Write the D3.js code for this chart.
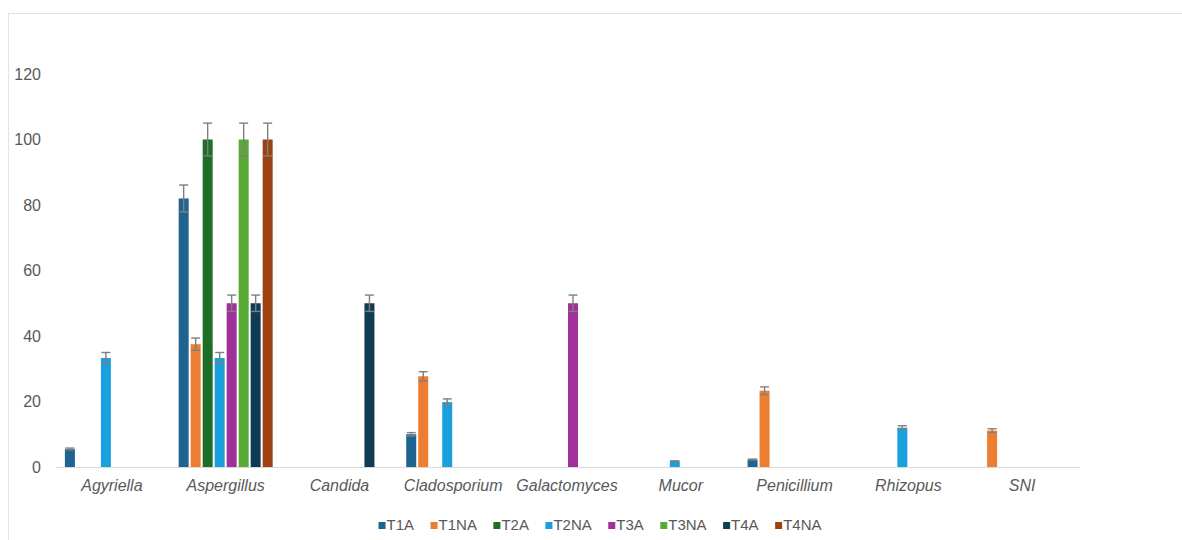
<!DOCTYPE html>
<html><head><meta charset="utf-8">
<script src="https://cdn.jsdelivr.net/npm/d3@7"></script>
<style>body{margin:0;background:#fff;}svg{display:block;font-family:"Liberation Sans",Arial,sans-serif;}</style>
</head><body>
<svg id="c" width="1182" height="540"></svg>
<script>
const categories = ["Agyriella","Aspergillus","Candida","Cladosporium","Galactomyces","Mucor","Penicillium","Rhizopus","SNI"];
const seriesNames = ["T1A","T1NA","T2A","T2NA","T3A","T3NA","T4A","T4NA"];
const seriesColors = ["#1f6390","#ed7d31","#1e6e28","#1aa0dc","#a0319a","#57ab35","#0f3b55","#9c4212"];
const T1A  = [5.5, 82, 0, 10, 0, 0, 2.3, 0, 0];
const T1NA = [0, 37.5, 0, 27.7, 0, 0, 23.3, 0, 11.1];
const T2A  = [0, 100, 0, 0, 0, 0, 0, 0, 0];
const T2NA = [33.3, 33.3, 0, 19.8, 0, 1.8, 0, 12, 0];
const T3A  = [0, 50, 0, 0, 50, 0, 0, 0, 0];
const T3NA = [0, 100, 0, 0, 0, 0, 0, 0, 0];
const T4A  = [0, 50, 50, 0, 0, 0, 0, 0, 0];
const T4NA = [0, 100, 0, 0, 0, 0, 0, 0, 0];
const yTicks = [0, 20, 40, 60, 80, 100, 120];
const errorPct = 0.05;

const seriesValues = [T1A, T1NA, T2A, T2NA, T3A, T3NA, T4A, T4NA];
const svg = d3.select("#c");

// chart border (cropped)
svg.append("path").attr("d","M8.5,540 V13.5 H1182").attr("fill","none").attr("stroke","#e3e3e3").attr("stroke-width",1);

const x0 = d3.scaleBand().domain(categories).range([55,1079]).paddingInner(0).paddingOuter(0);
const groupW = 96;
const x1 = d3.scaleBand().domain(seriesNames).range([0,groupW]).paddingInner(2/12).paddingOuter(1/12);
const y = d3.scaleLinear().domain([0,120]).range([467,74]);

// y labels
const yAxis = d3.axisLeft(y).tickValues(yTicks).tickSize(0).tickPadding(0);
const ya = svg.append("g").attr("transform","translate(41,0)").call(yAxis);
ya.select(".domain").remove();
ya.selectAll("text").attr("font-size",16).attr("fill","#595959").attr("font-family","Liberation Sans, Arial, sans-serif");

// bars
const data = [];
categories.forEach((c,i)=>seriesNames.forEach((s,j)=>{
  const v = seriesValues[j][i];
  if (v > 0) data.push({c, s, v, color: seriesColors[j]});
}));
const off = (x0.bandwidth()-groupW)/2;
svg.append("g").selectAll("rect").data(data).join("rect")
  .attr("x", d=>x0(d.c)+off+x1(d.s))
  .attr("width", x1.bandwidth())
  .attr("y", d=>y(d.v))
  .attr("height", d=>y(0)-y(d.v))
  .attr("fill", d=>d.color);

// error bars
const eb = svg.append("g").attr("stroke","#7f7f7f").attr("stroke-width",1.4).attr("fill","none");
data.forEach(d=>{
  const cx = x0(d.c)+off+x1(d.s)+x1.bandwidth()/2;
  const e = d.v*errorPct;
  const t = y(d.v+e), b = y(d.v-e);
  eb.append("line").attr("x1",cx).attr("x2",cx).attr("y1",t).attr("y2",b);
  eb.append("line").attr("x1",cx-4.5).attr("x2",cx+4.5).attr("y1",t).attr("y2",t);
  eb.append("line").attr("x1",cx-4.5).attr("x2",cx+4.5).attr("y1",b).attr("y2",b);
});

// x axis
const xAxis = d3.axisBottom(x0).tickSize(0).tickPadding(0);
const xa = svg.append("g").attr("transform","translate(0,467)").call(xAxis);
xa.select(".domain").attr("stroke","#d9d9d9").attr("stroke-width",1.2);
xa.selectAll("text").attr("font-size",16).attr("fill","#595959").attr("font-style","italic")
  .attr("dy",0).attr("y",24).attr("font-family","Liberation Sans, Arial, sans-serif");

// legend
const lg = svg.append("g").attr("font-size",15).attr("fill","#595959");
const items = lg.selectAll("g").data(seriesNames).join("g");
items.append("rect").attr("width",7).attr("height",7).attr("y",-8).attr("fill",(d,i)=>seriesColors[i]);
items.append("text").attr("x",8).text(d=>d);
const gap = 16.5;
let pos = 0; const xs = [];
items.each(function(){ const w = this.querySelector("text").getComputedTextLength(); xs.push(pos); pos += 8 + w + gap; });
const total = pos - gap;
const startX = 600 - total/2;
items.attr("transform",(d,i)=>`translate(${startX+xs[i]},530)`);
</script>
</body></html>
